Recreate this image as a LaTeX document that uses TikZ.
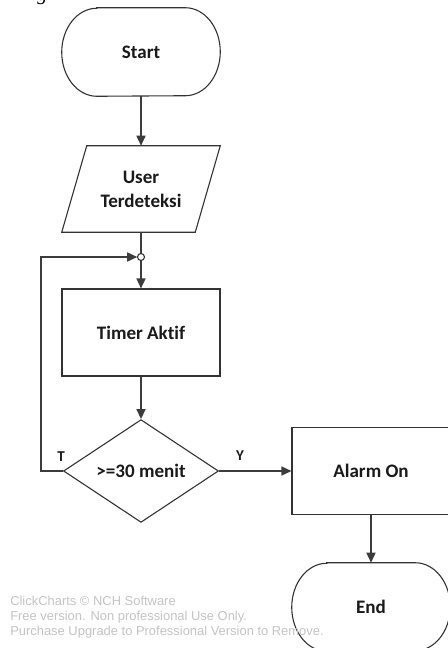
\documentclass[tikz,border=0pt]{standalone}
\usepackage{fontspec}
\setmainfont{Carlito}[Ligatures={NoCommon}]
\newfontfamily\wmfont{Liberation Sans}
\newfontfamily\serfont{Liberation Serif}
\usetikzlibrary{arrows.meta,shapes.geometric}
\definecolor{lc}{HTML}{3C3C3C}
\definecolor{sc}{HTML}{333333}
\definecolor{tc}{HTML}{1A1A1A}
\definecolor{wm}{HTML}{C4C4C4}
\begin{document}
\begin{tikzpicture}[x=0.75pt,y=-0.75pt,
  line/.style={draw=lc, line width=1.5*0.75pt},
  arr/.style={line, -{Triangle[length=10*0.75pt,width=9*0.75pt]}},
  shp/.style={draw=sc, line width=1.1*0.75pt},
  lbl/.style={font=\fontsize{14.3}{18}\selectfont\bfseries, text=tc, align=center},
  box/.style={shp, lbl, rectangle, minimum width=158*0.75pt, minimum height=87*0.75pt, inner sep=0pt},
  termbox/.style={lbl, rectangle, minimum width=158*0.75pt, minimum height=88*0.75pt, inner sep=0pt},
  yt/.style={font=\fontsize{11.3}{13}\selectfont\bfseries, text=tc, inner sep=0pt},
  wmt/.style={font=\wmfont\fontsize{9.7}{11}\selectfont, text=wm, anchor=base west, inner sep=0pt},
]
\useasboundingbox (0,0) rectangle (447,648);
\fill[white] (0,0) rectangle (447,648);

% partial caption glyph at top edge
\node[font=\serfont\itshape\fontsize{15}{15}\selectfont, anchor=base west, inner sep=0pt] (cap) at (37,1) {g};

% nodes
\node[termbox] (st) at (141,52) {Start};
\draw[shp] ([xshift=35*0.75pt]st.north west) -- ([xshift=-35*0.75pt]st.north east)
  arc[start angle=90,end angle=-90,x radius=35*0.75pt,y radius=44*0.75pt]
  -- ([xshift=35*0.75pt]st.south west)
  arc[start angle=270,end angle=90,x radius=35*0.75pt,y radius=44*0.75pt] -- cycle;

\node[lbl, rectangle, minimum width=158*0.75pt, minimum height=86*0.75pt, inner sep=0pt] (ud) at (141,189) {User\\Terdeteksi};
\draw[shp] ([xshift=25*0.75pt]ud.north west) -- (ud.north east)
  -- ([xshift=-25*0.75pt]ud.south east) -- (ud.south west) -- cycle;

\node[box] (tm) at (141,332.5) {Timer Aktif};
\node[diamond, shp, lbl, minimum width=155*0.75pt, minimum height=86*0.75pt, inner sep=0pt] (dc) at (141,471) {>=30 menit};
\node[box] (al) at (371,471) {Alarm On};

\node[termbox] (en) at (371,607) {End};
\draw[shp] ([xshift=35*0.75pt]en.north west) -- ([xshift=-35*0.75pt]en.north east)
  arc[start angle=90,end angle=-90,x radius=35*0.75pt,y radius=44*0.75pt]
  -- ([xshift=35*0.75pt]en.south west)
  arc[start angle=270,end angle=90,x radius=35*0.75pt,y radius=44*0.75pt] -- cycle;

% connectors
\coordinate (lp) at (41,257);
\node[circle, inner sep=0pt, minimum size=7*0.75pt] (jc) at (141,257) {};
\draw[arr] (st.south) -- (ud.north);
\draw[line] (ud.south) -- (jc.north);
\draw[arr] (jc.south) -- (tm.north);
\draw[arr] (tm.south) -- (dc.north);
\draw[arr] (dc.east) -- (al.west);
\draw[arr] (al.south) -- (en.north);
\draw[arr] (dc.west) -| (lp) -- (jc.west);
\draw[shp, fill=white] (jc.center) circle[radius=3.5*0.75pt];

% branch labels
\node[yt] (lt) at (61,457) {T};
\node[yt] (ly) at (240,456) {Y};

% watermark
\node[wmt] (w1) at (10,605) {ClickCharts © NCH Software};
\node[wmt] (w2) at (10,620) {Free version. Non professional Use Only.};
\node[wmt] (w3) at (10,635) {Purchase Upgrade to Professional Version to Remove.};
\end{tikzpicture}
\end{document}
